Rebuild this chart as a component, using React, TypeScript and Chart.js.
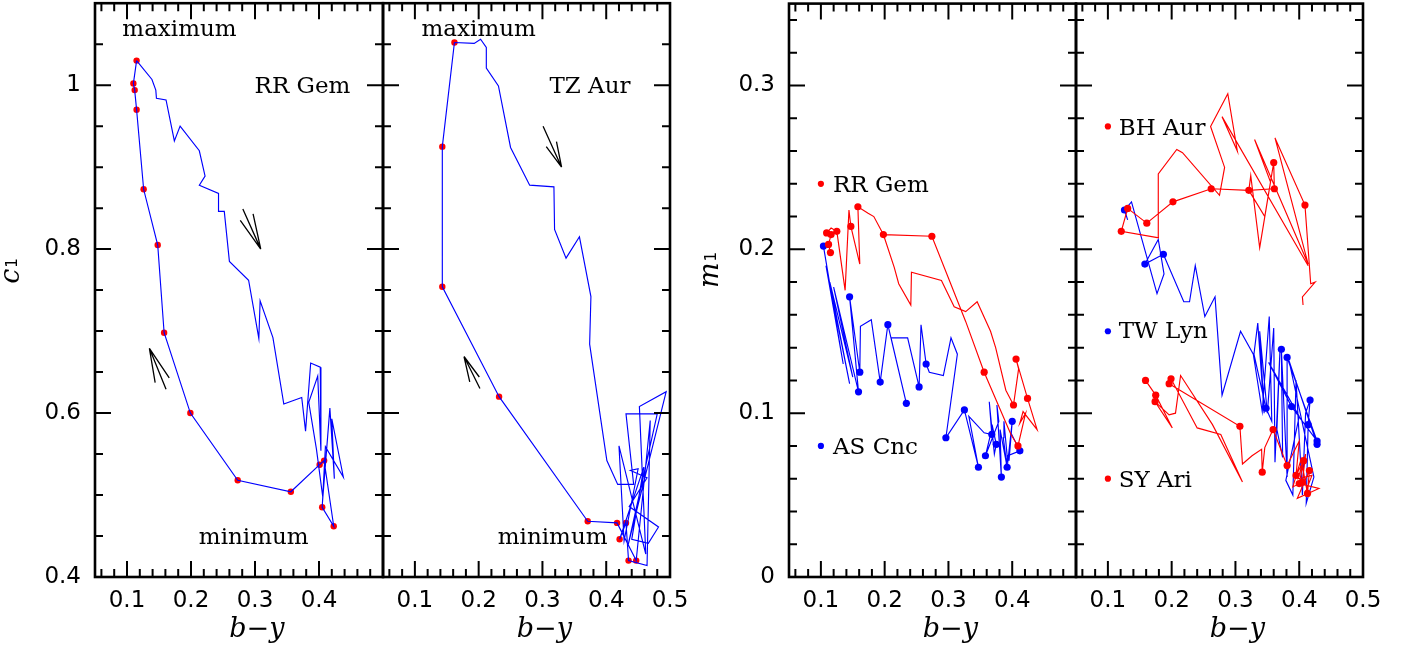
import React, { useEffect, useRef } from "react";
import { Chart, registerables } from "chart.js";

Chart.register(...registerables);

type P = [number, number];

const W = 1412;
const H = 652;
const RED = "#ff0000";
const BLUE = "#0000ff";

// ---------- tick labels ----------
const xTickLabelsNarrow = ["0.1", "0.2", "0.3", "0.4"];
const xTickLabelsWide = ["0.1", "0.2", "0.3", "0.4", "0.5"];
const yTickLabelsC1 = ["0.4", "0.6", "0.8", "1"];
const yTickLabelsM1 = ["0", "0.1", "0.2", "0.3"];

// ---------- panel 1 : RR Gem, c1 vs b-y ----------
const rrGemC1Line: P[] = [
  [0.115, 1.03], [0.139, 1.007], [0.145, 0.994], [0.146, 0.984], [0.161, 0.982],
  [0.174, 0.932], [0.183, 0.95], [0.213, 0.92], [0.222, 0.889], [0.213, 0.878],
  [0.243, 0.868], [0.243, 0.846], [0.252, 0.846], [0.26, 0.785], [0.29, 0.762],
  [0.306, 0.691], [0.308, 0.737], [0.328, 0.692], [0.345, 0.611], [0.373, 0.619],
  [0.379, 0.578], [0.387, 0.661], [0.402, 0.656], [0.403, 0.554], [0.398, 0.645],
  [0.384, 0.613], [0.396, 0.556], [0.406, 0.497], [0.417, 0.606], [0.424, 0.52],
  [0.42, 0.593], [0.438, 0.522], [0.41, 0.559], [0.405, 0.485], [0.423, 0.462],
  [0.408, 0.542], [0.401, 0.537], [0.356, 0.504], [0.273, 0.518], [0.199, 0.6],
  [0.158, 0.698], [0.148, 0.805], [0.126, 0.873], [0.115, 0.97], [0.112, 0.994],
  [0.11, 1.002], [0.115, 1.03],
];
const rrGemC1Marks: P[] = [
  [0.115, 1.03], [0.11, 1.002], [0.112, 0.994], [0.115, 0.97], [0.126, 0.873],
  [0.148, 0.805], [0.158, 0.698], [0.199, 0.6], [0.273, 0.518], [0.356, 0.504],
  [0.401, 0.537], [0.408, 0.542], [0.405, 0.485], [0.423, 0.462],
];

// ---------- panel 2 : TZ Aur, c1 vs b-y ----------
const tzAurC1Line: P[] = [
  [0.162, 1.052], [0.193, 1.051], [0.203, 1.056], [0.212, 1.046], [0.212, 1.021],
  [0.231, 0.999], [0.25, 0.924], [0.28, 0.878], [0.318, 0.876], [0.319, 0.824],
  [0.337, 0.789], [0.358, 0.815], [0.376, 0.742], [0.374, 0.684], [0.401, 0.542],
  [0.418, 0.513], [0.443, 0.513], [0.431, 0.599], [0.48, 0.599], [0.434, 0.438],
  [0.494, 0.626], [0.452, 0.608], [0.462, 0.428], [0.42, 0.56], [0.428, 0.444],
  [0.45, 0.532], [0.438, 0.53], [0.464, 0.521], [0.436, 0.486], [0.482, 0.461],
  [0.466, 0.441], [0.44, 0.446], [0.459, 0.534], [0.421, 0.446], [0.431, 0.466],
  [0.435, 0.42], [0.464, 0.414], [0.469, 0.591], [0.447, 0.42], [0.417, 0.466],
  [0.371, 0.468], [0.232, 0.62], [0.143, 0.754], [0.143, 0.925], [0.162, 1.052],
];
const tzAurC1Marks: P[] = [
  [0.162, 1.052], [0.143, 0.925], [0.143, 0.754], [0.232, 0.62], [0.371, 0.468],
  [0.417, 0.466], [0.431, 0.466], [0.421, 0.446], [0.435, 0.42], [0.447, 0.42],
];

// ---------- panel 3 : RR Gem (red) and AS Cnc (blue), m1 vs b-y ----------
const rrGemM1Line: P[] = [
  [0.115, 0.198], [0.112, 0.203], [0.116, 0.209], [0.109, 0.21], [0.116, 0.213],
  [0.125, 0.211], [0.138, 0.175], [0.144, 0.224], [0.147, 0.214], [0.161, 0.191],
  [0.158, 0.226], [0.174, 0.222], [0.183, 0.22], [0.198, 0.209], [0.215, 0.189],
  [0.222, 0.179], [0.241, 0.166], [0.242, 0.186], [0.289, 0.181], [0.309, 0.165],
  [0.327, 0.162], [0.345, 0.168], [0.366, 0.15], [0.374, 0.14], [0.39, 0.114],
  [0.402, 0.105], [0.41, 0.127], [0.406, 0.133], [0.424, 0.109], [0.439, 0.09],
  [0.417, 0.101], [0.412, 0.094], [0.421, 0.1], [0.409, 0.08], [0.398, 0.087],
  [0.356, 0.125], [0.327, 0.156], [0.274, 0.208], [0.198, 0.209],
];
const rrGemM1Marks: P[] = [
  [0.109, 0.21], [0.116, 0.209], [0.112, 0.203], [0.115, 0.198], [0.125, 0.211],
  [0.147, 0.214], [0.158, 0.226], [0.198, 0.209], [0.274, 0.208], [0.356, 0.125],
  [0.406, 0.133], [0.402, 0.105], [0.424, 0.109], [0.409, 0.08],
];
const asCncM1Line: P[] = [
  [0.104, 0.202], [0.135, 0.13], [0.108, 0.19], [0.145, 0.118], [0.114, 0.18],
  [0.15, 0.122], [0.12, 0.177], [0.159, 0.113], [0.145, 0.171], [0.161, 0.125],
  [0.162, 0.153], [0.179, 0.157], [0.193, 0.119], [0.205, 0.154], [0.234, 0.106],
  [0.21, 0.146], [0.236, 0.146], [0.254, 0.116], [0.257, 0.154], [0.265, 0.13],
  [0.27, 0.125], [0.292, 0.123], [0.304, 0.146], [0.314, 0.136], [0.296, 0.085],
  [0.325, 0.102], [0.347, 0.067], [0.332, 0.098], [0.356, 0.088], [0.368, 0.087],
  [0.364, 0.107], [0.372, 0.075], [0.375, 0.081], [0.369, 0.092], [0.358, 0.074],
  [0.379, 0.095], [0.376, 0.105], [0.383, 0.061], [0.381, 0.09], [0.392, 0.067],
  [0.386, 0.085], [0.387, 0.095], [0.393, 0.07], [0.4, 0.095], [0.395, 0.071],
  [0.398, 0.088], [0.412, 0.077], [0.393, 0.074], [0.39, 0.068],
];
const asCncM1Marks: P[] = [
  [0.104, 0.202], [0.145, 0.171], [0.161, 0.125], [0.159, 0.113], [0.193, 0.119],
  [0.205, 0.154], [0.234, 0.106], [0.254, 0.116], [0.265, 0.13], [0.296, 0.085],
  [0.325, 0.102], [0.347, 0.067], [0.368, 0.087], [0.375, 0.081], [0.358, 0.074],
  [0.383, 0.061], [0.392, 0.067], [0.4, 0.095], [0.412, 0.077],
];
const rrGemLegendDot: P[] = [[0.1, 0.24]];
const asCncLegendDot: P[] = [[0.1, 0.08]];

// ---------- panel 4 : BH Aur (red), TW Lyn (blue), SY Ari (red) ----------
const bhAurM1Line: P[] = [
  [0.406, 0.166], [0.405, 0.171], [0.425, 0.18], [0.418, 0.179], [0.409, 0.227],
  [0.362, 0.268], [0.414, 0.191], [0.33, 0.267], [0.355, 0.241], [0.338, 0.201],
  [0.324, 0.245], [0.321, 0.236], [0.361, 0.237], [0.36, 0.253], [0.346, 0.22],
  [0.321, 0.236], [0.262, 0.237], [0.202, 0.229], [0.161, 0.216], [0.131, 0.225],
  [0.121, 0.211], [0.18, 0.207], [0.179, 0.246], [0.208, 0.261], [0.217, 0.259],
  [0.275, 0.233], [0.283, 0.25], [0.261, 0.275], [0.288, 0.295], [0.303, 0.26],
  [0.279, 0.281], [0.414, 0.19],
];
const bhAurM1Marks: P[] = [
  [0.121, 0.211], [0.131, 0.225], [0.161, 0.216], [0.202, 0.229], [0.262, 0.237],
  [0.321, 0.236], [0.361, 0.237], [0.36, 0.253], [0.409, 0.227],
];
const twLynM1Line: P[] = [
  [0.131, 0.218], [0.126, 0.224], [0.137, 0.229], [0.177, 0.173], [0.188, 0.185],
  [0.179, 0.206], [0.158, 0.191], [0.187, 0.197], [0.219, 0.168], [0.228, 0.168],
  [0.237, 0.19], [0.252, 0.159], [0.268, 0.171], [0.279, 0.111], [0.308, 0.15],
  [0.328, 0.136], [0.342, 0.101], [0.353, 0.159], [0.357, 0.095], [0.348, 0.103],
  [0.329, 0.136], [0.335, 0.155], [0.345, 0.1], [0.338, 0.15], [0.35, 0.1],
  [0.36, 0.152], [0.362, 0.07], [0.37, 0.14], [0.365, 0.09], [0.374, 0.073],
  [0.372, 0.139], [0.381, 0.061], [0.381, 0.134], [0.428, 0.083], [0.388, 0.104],
  [0.352, 0.131], [0.368, 0.12], [0.4, 0.098], [0.379, 0.059], [0.39, 0.05],
  [0.395, 0.12], [0.405, 0.05], [0.41, 0.1], [0.417, 0.108], [0.414, 0.093],
  [0.411, 0.045], [0.423, 0.061], [0.384, 0.132], [0.428, 0.081],
];
const twLynM1Marks: P[] = [
  [0.126, 0.224], [0.158, 0.191], [0.187, 0.197], [0.348, 0.103], [0.372, 0.139],
  [0.381, 0.134], [0.428, 0.083], [0.388, 0.104], [0.417, 0.108], [0.414, 0.093],
  [0.428, 0.081],
];
const syAriM1Line: P[] = [
  [0.159, 0.12], [0.175, 0.111], [0.201, 0.091], [0.174, 0.107], [0.196, 0.099],
  [0.206, 0.1], [0.214, 0.123], [0.264, 0.093], [0.311, 0.058], [0.277, 0.087],
  [0.24, 0.091], [0.199, 0.121], [0.196, 0.118], [0.307, 0.092], [0.311, 0.069],
  [0.326, 0.074], [0.341, 0.078], [0.342, 0.064], [0.346, 0.079], [0.359, 0.09],
  [0.381, 0.068], [0.4, 0.083], [0.395, 0.062], [0.407, 0.071], [0.4, 0.057],
  [0.431, 0.054], [0.397, 0.048], [0.416, 0.065], [0.413, 0.051], [0.403, 0.072],
  [0.39, 0.055], [0.405, 0.058], [0.41, 0.075], [0.398, 0.06], [0.42, 0.062],
  [0.408, 0.05],
];
const syAriM1Marks: P[] = [
  [0.159, 0.12], [0.175, 0.111], [0.174, 0.107], [0.199, 0.121], [0.196, 0.118],
  [0.307, 0.092], [0.342, 0.064], [0.359, 0.09], [0.381, 0.068], [0.395, 0.062],
  [0.407, 0.071], [0.4, 0.057], [0.416, 0.065], [0.413, 0.051], [0.405, 0.058],
];
const bhAurLegendDot: P[] = [[0.1, 0.275]];
const twLynLegendDot: P[] = [[0.1, 0.15]];
const syAriLegendDot: P[] = [[0.1, 0.06]];

// ---------- annotations ----------
type Note = { text: string; x: number; y: number; align: CanvasTextAlign };
type Arrow = { tail: P; tip: P; heads: P[] };

const panel1Notes: Note[] = [
  { text: "maximum", x: 0.182, y: 1.06, align: "center" },
  { text: "RR Gem", x: 0.449, y: 0.99, align: "right" },
  { text: "minimum", x: 0.298, y: 0.44, align: "center" },
];
const panel2Notes: Note[] = [
  { text: "maximum", x: 0.2, y: 1.06, align: "center" },
  { text: "TZ Aur", x: 0.438, y: 0.991, align: "right" },
  { text: "minimum", x: 0.316, y: 0.44, align: "center" },
];
const panel3Notes: Note[] = [
  { text: "RR Gem", x: 0.119, y: 0.235, align: "left" },
  { text: "AS Cnc", x: 0.119, y: 0.075, align: "left" },
];
const panel4Notes: Note[] = [
  { text: "BH Aur", x: 0.117, y: 0.27, align: "left" },
  { text: "TW Lyn", x: 0.117, y: 0.146, align: "left" },
  { text: "SY Ari", x: 0.117, y: 0.055, align: "left" },
];
const panel1Arrows: Arrow[] = [
  { tail: [0.281, 0.849], tip: [0.309, 0.8], heads: [[0.277, 0.835], [0.297, 0.843]] },
  { tail: [0.161, 0.629], tip: [0.135, 0.679], heads: [[0.144, 0.637], [0.166, 0.643]] },
];
const panel2Arrows: Arrow[] = [
  { tail: [0.301, 0.95], tip: [0.33, 0.9], heads: [[0.306, 0.925], [0.322, 0.931]] },
  { tail: [0.202, 0.63], tip: [0.177, 0.669], heads: [[0.186, 0.638], [0.201, 0.644]] },
];

// ---------- helpers ----------
const toXY = (pts: P[]) => pts.map(([x, y]) => ({ x, y }));

function steps(a: number, b: number, step: number): number[] {
  const out: number[] = [];
  const n = Math.round((b - a) / step);
  for (let i = 0; i <= n; i++) out.push(+(a + i * step).toFixed(4));
  return out;
}
const isMultiple = (v: number, m: number) => Math.abs(v / m - Math.round(v / m)) < 1e-6;

function lineDs(pts: P[], color: string, order: number) {
  return {
    data: toXY(pts),
    showLine: true,
    borderColor: color,
    borderWidth: 1.15,
    pointRadius: 0,
    pointHoverRadius: 0,
    fill: false,
    order,
  };
}
function markDs(pts: P[], color: string, r: number, order: number) {
  return {
    data: toXY(pts),
    showLine: false,
    pointRadius: r,
    pointHoverRadius: r,
    backgroundColor: color,
    borderColor: color,
    borderWidth: 0,
    order,
  };
}

type PanelDef = {
  left: number;
  right: number;
  top: number;
  bottom: number;
  yMin: number;
  yMax: number;
  yMajorStep: number;
  yMinorStep: number;
  xLabels: string[];
  yLabels: string[];
  yTitle?: { main: string; sub: string; x: number; y: number };
  notes: Note[];
  arrows: Arrow[];
  datasets: any[];
};

const panels: PanelDef[] = [
  {
    left: 95, right: 383, top: 2, bottom: 577,
    yMin: 0.4, yMax: 1.1, yMajorStep: 0.2, yMinorStep: 0.05,
    xLabels: xTickLabelsNarrow, yLabels: yTickLabelsC1,
    yTitle: { main: "c", sub: "1", x: 19, y: 271 },
    notes: panel1Notes, arrows: panel1Arrows,
    datasets: [lineDs(rrGemC1Line, BLUE, 0), markDs(rrGemC1Marks, RED, 3.2, 1)],
  },
  {
    left: 383, right: 670, top: 2, bottom: 577,
    yMin: 0.4, yMax: 1.1, yMajorStep: 0.2, yMinorStep: 0.05,
    xLabels: xTickLabelsWide, yLabels: [],
    notes: panel2Notes, arrows: panel2Arrows,
    datasets: [lineDs(tzAurC1Line, BLUE, 0), markDs(tzAurC1Marks, RED, 3.2, 1)],
  },
  {
    left: 789, right: 1076, top: 2, bottom: 577,
    yMin: 0, yMax: 0.35, yMajorStep: 0.1, yMinorStep: 0.02,
    xLabels: xTickLabelsNarrow, yLabels: yTickLabelsM1,
    yTitle: { main: "m", sub: "1", x: 718, y: 270 },
    notes: panel3Notes, arrows: [],
    datasets: [
      lineDs(rrGemM1Line, RED, 1), markDs(rrGemM1Marks, RED, 3.6, 1),
      lineDs(asCncM1Line, BLUE, 2), markDs(asCncM1Marks, BLUE, 3.6, 2),
      markDs(rrGemLegendDot, RED, 3.1, 0), markDs(asCncLegendDot, BLUE, 3.1, 0),
    ],
  },
  {
    left: 1076, right: 1363, top: 2, bottom: 577,
    yMin: 0, yMax: 0.35, yMajorStep: 0.1, yMinorStep: 0.02,
    xLabels: xTickLabelsWide, yLabels: [],
    notes: panel4Notes, arrows: [],
    datasets: [
      lineDs(bhAurM1Line, RED, 1), markDs(bhAurM1Marks, RED, 3.6, 1),
      lineDs(syAriM1Line, RED, 1), markDs(syAriM1Marks, RED, 3.6, 1),
      lineDs(twLynM1Line, BLUE, 2), markDs(twLynM1Marks, BLUE, 3.6, 2),
      markDs(bhAurLegendDot, RED, 3.1, 0), markDs(twLynLegendDot, BLUE, 3.1, 0),
      markDs(syAriLegendDot, RED, 3.1, 0),
    ],
  },
];

const X_MIN = 0.05;
const X_MAX = 0.5;
const TICK_FONT = '23px "DejaVu Sans"';
const NOTE_FONT = '23px "DejaVu Serif"';
const TITLE_FONT = 'italic 27px "DejaVu Serif"';

function decorPlugin(p: PanelDef) {
  return {
    id: "panelDecor",
    afterDatasetsDraw(chart: any) {
      const ctx: CanvasRenderingContext2D = chart.ctx;
      const xs = chart.scales.x;
      const ys = chart.scales.y;
      const { left, right, top, bottom } = chart.chartArea;
      const px = (v: number) => xs.getPixelForValue(v);
      const py = (v: number) => ys.getPixelForValue(v);
      ctx.save();
      ctx.strokeStyle = "#000";
      ctx.fillStyle = "#000";

      // arrows
      ctx.lineWidth = 1.3;
      for (const a of p.arrows) {
        ctx.beginPath();
        ctx.moveTo(px(a.tail[0]), py(a.tail[1]));
        ctx.lineTo(px(a.tip[0]), py(a.tip[1]));
        for (const h of a.heads) {
          ctx.moveTo(px(h[0]), py(h[1]));
          ctx.lineTo(px(a.tip[0]), py(a.tip[1]));
        }
        ctx.stroke();
      }

      // frame
      ctx.lineWidth = 2.6;
      ctx.strokeRect(left, top, right - left, bottom - top);

      // ticks
      const MAJ = 16;
      const MIN = 8;
      ctx.lineWidth = 2;
      ctx.beginPath();
      const xMajors = steps(0.1, 0.5, 0.1);
      const xMinors = steps(0.06, 0.48, 0.02).filter((v) => !isMultiple(v, 0.1));
      for (const v of xMajors) {
        const x = px(v);
        ctx.moveTo(x, bottom); ctx.lineTo(x, bottom - MAJ);
        ctx.moveTo(x, top); ctx.lineTo(x, top + MAJ);
      }
      for (const v of xMinors) {
        const x = px(v);
        ctx.moveTo(x, bottom); ctx.lineTo(x, bottom - MIN);
        ctx.moveTo(x, top); ctx.lineTo(x, top + MIN);
      }
      const yMajors = steps(p.yMin, p.yMax, p.yMajorStep).filter((v) => v > p.yMin && v < p.yMax);
      const yMinors = steps(p.yMin, p.yMax, p.yMinorStep).filter(
        (v) => v > p.yMin && v < p.yMax && !isMultiple(v - p.yMin, p.yMajorStep)
      );
      for (const v of yMajors) {
        const y = py(v);
        ctx.moveTo(left, y); ctx.lineTo(left + MAJ, y);
        ctx.moveTo(right, y); ctx.lineTo(right - MAJ, y);
      }
      for (const v of yMinors) {
        const y = py(v);
        ctx.moveTo(left, y); ctx.lineTo(left + MIN, y);
        ctx.moveTo(right, y); ctx.lineTo(right - MIN, y);
      }
      ctx.stroke();

      // tick labels
      ctx.font = TICK_FONT;
      ctx.textBaseline = "middle";
      ctx.textAlign = "center";
      for (const s of p.xLabels) ctx.fillText(s, px(parseFloat(s)), 601);
      ctx.textAlign = "right";
      for (const s of p.yLabels) ctx.fillText(s, left - 14, py(parseFloat(s)));

      // x title
      ctx.textBaseline = "alphabetic";
      ctx.textAlign = "center";
      ctx.font = TITLE_FONT;
      ctx.fillText("b\u2212y", px(0.303), 637);

      // y title (rotated)
      if (p.yTitle) {
        const t = p.yTitle;
        ctx.save();
        ctx.translate(t.x, t.y);
        ctx.rotate(-Math.PI / 2);
        ctx.font = TITLE_FONT;
        const w1 = ctx.measureText(t.main).width;
        ctx.font = '15px "DejaVu Sans"';
        const w2 = ctx.measureText(t.sub).width;
        const start = -(w1 + w2 + 1) / 2;
        ctx.textAlign = "left";
        ctx.font = TITLE_FONT;
        ctx.fillText(t.main, start, 0);
        ctx.font = '15px "DejaVu Sans"';
        ctx.fillText(t.sub, start + w1 + 1, -2);
        ctx.restore();
      }

      // notes
      ctx.font = NOTE_FONT;
      ctx.textBaseline = "alphabetic";
      for (const n of p.notes) {
        ctx.textAlign = n.align;
        ctx.fillText(n.text, px(n.x), py(n.y));
      }
      ctx.restore();
    },
  };
}

function makeChart(canvas: HTMLCanvasElement, p: PanelDef) {
  return new Chart(canvas, {
    type: "scatter",
    data: { datasets: p.datasets },
    options: {
      responsive: false,
      maintainAspectRatio: false,
      animation: false,
      devicePixelRatio: 1,
      events: [],
      layout: {
        padding: { left: p.left, right: W - p.right, top: p.top, bottom: H - p.bottom },
      },
      scales: {
        x: { type: "linear", min: X_MIN, max: X_MAX, display: false },
        y: { type: "linear", min: p.yMin, max: p.yMax, display: false },
      },
      plugins: {
        legend: { display: false },
        tooltip: { enabled: false },
      },
    } as any,
    plugins: [decorPlugin(p)],
  });
}

export default function App() {
  const refs = useRef<(HTMLCanvasElement | null)[]>([]);
  useEffect(() => {
    const charts = panels.map((p, i) => makeChart(refs.current[i]!, p));
    return () => charts.forEach((c) => c.destroy());
  }, []);
  return (
    <div style={{ position: "absolute", left: 0, top: 0, width: W, height: H, background: "#fff" }}>
      {panels.map((_, i) => (
        <canvas
          key={i}
          ref={(el) => {
            refs.current[i] = el;
          }}
          width={W}
          height={H}
          style={{ position: "absolute", left: 0, top: 0, width: W, height: H }}
        />
      ))}
    </div>
  );
}
